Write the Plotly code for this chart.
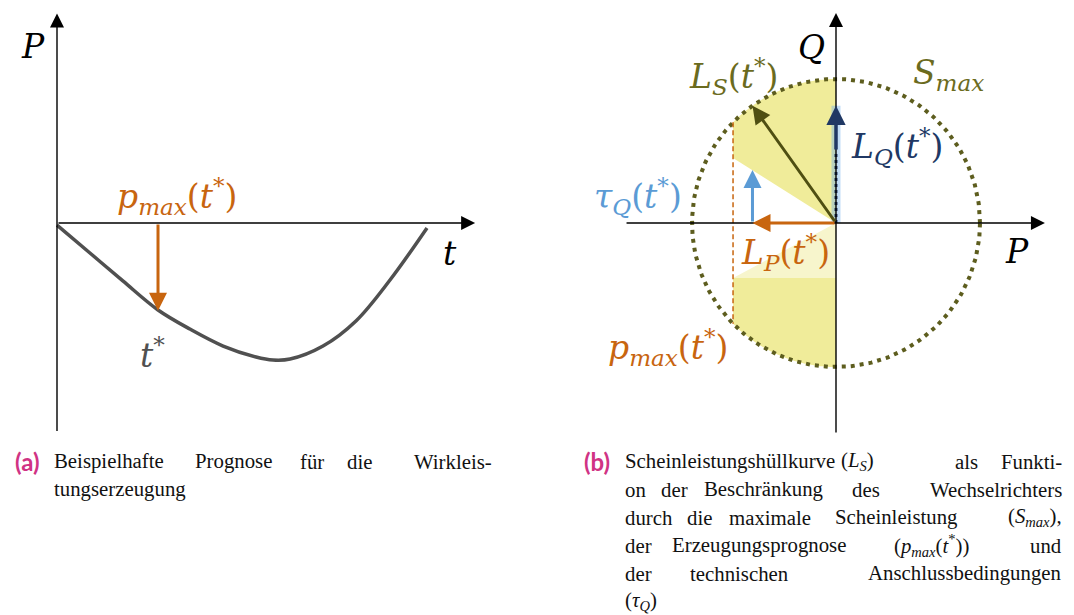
import numpy as np
import plotly.graph_objects as go

# ---------------- data: panel (a) ----------------
t_curve = [0.0, 0.089, 0.178, 0.273, 0.359, 0.449, 0.538, 0.584, 0.630, 0.719, 0.808, 0.900, 1.0]
p_curve = [-0.015, -0.219, -0.423, -0.635, -0.774, -0.898, -0.978, -1.0, -0.993, -0.898, -0.715, -0.416, -0.036]
t_star = 0.273
p_max_at_t_star = -0.64

# ---------------- data: panel (b) ----------------
S_max = 1.0
p_max_b = -0.715
L_P = -0.58
L_Q = 0.815
tau_Q_top = 0.368
tau_edge_up = 0.451
tau_edge_low = -0.382
L_Q_dotted_end = 0.5

W, H = 1074, 615
# pixel mapping (layout): panel a origin (57,223), 370 px/unit x, 137 px/unit y
ax_o, ay_o, a_sx, a_sy = 57, 223, 370.0, 137.0
# panel b origin (836,223), radius 144 px
bx_o, by_o, b_s = 836, 223, 144.0

def ppx(x):
    return x / W

def ppy(y):
    return 1 - y / H

fig = go.Figure()

OLIVE = "#6b6b1e"
OLIVE_DARK = "#4f4f12"
NAVY = "#203864"
LBLUE = "#5b9bd5"
ORANGE = "#c8650f"
GRAY = "#505050"
YEL = "#f0ec9a"
YEL_L = "#f7f5cc"

# ---- panel (a) curve
fig.add_trace(go.Scatter(x=t_curve, y=p_curve, mode="lines",
                         line=dict(color=GRAY, width=3.5, shape="spline", smoothing=1.0),
                         xaxis="x", yaxis="y", hoverinfo="skip"))

# ---- panel (b) regions
a1 = np.arccos(p_max_b / S_max)
edge = np.sqrt(S_max**2 - p_max_b**2)
arc_up = np.linspace(a1, np.pi / 2, 60)
xu = [0, p_max_b, p_max_b] + list(S_max * np.cos(arc_up)) + [0]
yu = [0, tau_edge_up, edge] + list(S_max * np.sin(arc_up)) + [0]
fig.add_trace(go.Scatter(x=xu, y=yu, fill="toself", fillcolor=YEL, mode="none",
                         xaxis="x2", yaxis="y2", hoverinfo="skip"))
arc_lo = np.linspace(-a1, -np.pi / 2, 60)
xl = [0, p_max_b, p_max_b] + list(S_max * np.cos(arc_lo)) + [0, 0]
yl = [tau_edge_low, tau_edge_low, -edge] + list(S_max * np.sin(arc_lo)) + [0, tau_edge_low]
fig.add_trace(go.Scatter(x=xl, y=yl, fill="toself", fillcolor=YEL, mode="none",
                         xaxis="x2", yaxis="y2", hoverinfo="skip"))
fig.add_trace(go.Scatter(x=[0, p_max_b, 0, 0], y=[0, tau_edge_low, tau_edge_low, 0],
                         fill="toself", fillcolor=YEL_L, mode="none",
                         xaxis="x2", yaxis="y2", hoverinfo="skip"))

# circle S_max
th = np.linspace(0, 2 * np.pi, 400)
fig.add_trace(go.Scatter(x=S_max * np.cos(th), y=S_max * np.sin(th), mode="lines",
                         line=dict(color="#5d5d1e", width=4, dash="4px,5px"),
                         xaxis="x2", yaxis="y2", hoverinfo="skip"))
# p_max dashed vertical
fig.add_trace(go.Scatter(x=[p_max_b, p_max_b], y=[edge, -edge], mode="lines",
                         line=dict(color=ORANGE, width=1.5, dash="5px,3px"),
                         xaxis="x2", yaxis="y2", hoverinfo="skip"))
# L_Q glow and dotted part
fig.add_trace(go.Scatter(x=[0, 0], y=[0, L_Q], mode="lines",
                         line=dict(color="rgba(120,180,235,0.45)", width=9),
                         xaxis="x2", yaxis="y2", hoverinfo="skip"))
fig.add_trace(go.Scatter(x=[0, 0], y=[0, L_Q_dotted_end], mode="lines",
                         line=dict(color=NAVY, width=3, dash="3px,3px"),
                         xaxis="x2", yaxis="y2", hoverinfo="skip"))

ann = []

def arrow(x0, y0, x1, y1, color, width, xr, yr, head=2, size=1.0):
    ann.append(dict(x=x1, y=y1, ax=x0, ay=y0, xref=xr, yref=yr, axref=xr, ayref=yr,
                    showarrow=True, arrowhead=head, arrowsize=size, arrowwidth=width,
                    arrowcolor=color, text=""))

# axes of panel (a)
arrow(0, -1.53, 0, 1.53, "black", 1.4, "x", "y", head=2, size=2.0)
arrow(0, 0, 1.13, 0, "black", 1.4, "x", "y", head=2, size=2.0)
# axes of panel (b)
arrow(0, -1.465, 0, 1.458, "black", 1.4, "x2", "y2", head=2, size=2.0)
arrow(-1.465, 0, 1.451, 0, "black", 1.4, "x2", "y2", head=2, size=2.0)

# panel (a) p_max arrow
arrow(t_star, 0, t_star, p_max_at_t_star, ORANGE, 3, "x", "y", head=2, size=1.2)
# panel (b) arrows
arrow(0, 0, L_P, L_Q, OLIVE_DARK, 3, "x2", "y2", head=2, size=1.2)
arrow(0, L_Q_dotted_end, 0, L_Q, NAVY, 3.5, "x2", "y2", head=2, size=1.1)
arrow(L_P, 0, L_P, tau_Q_top, LBLUE, 3, "x2", "y2", head=2, size=1.2)
arrow(0, 0, L_P, 0, ORANGE, 3, "x2", "y2", head=2, size=1.2)

MF = "DejaVu Serif"
LS = 33

def label(x, y, text, color, size, xr, yr):
    ann.append(dict(x=x, y=y, xref=xr, yref=yr, text=text, showarrow=False,
                    font=dict(family=MF, size=size, color=color),
                    xanchor="center", yanchor="middle"))

PM = "<i>p</i><sub><i>max</i></sub>(<i>t</i><sup>*</sup>)"
label(-0.065, 1.285, "<i>P</i>", "black", LS, "x", "y")
label(1.062, -0.219, "<i>t</i>", "black", LS, "x", "y")
label(0.324, 0.19, PM, ORANGE, LS, "x", "y")
label(0.259, -0.949, "<i>t</i><sup>*</sup>", GRAY, LS, "x", "y")

label(-0.167, 1.222, "<i>Q</i>", "black", LS, "x2", "y2")
label(-0.715, 1.014, "<i>L</i><sub><i>S</i></sub>(<i>t</i><sup>*</sup>)", OLIVE, LS, "x2", "y2")
label(0.778, 1.028, "<i>S</i><sub><i>max</i></sub>", OLIVE, LS, "x2", "y2")
label(0.424, 0.528, "<i>L</i><sub><i>Q</i></sub>(<i>t</i><sup>*</sup>)", NAVY, LS, "x2", "y2")
label(-1.375, 0.181, "<i>τ</i><sub><i>Q</i></sub>(<i>t</i><sup>*</sup>)", LBLUE, LS, "x2", "y2")
label(-0.354, -0.208, "<i>L</i><sub><i>P</i></sub>(<i>t</i><sup>*</sup>)", ORANGE, LS, "x2", "y2")
label(1.257, -0.201, "<i>P</i>", "black", LS, "x2", "y2")
label(-1.167, -0.868, PM, ORANGE, LS, "x2", "y2")

# ---------------- captions ----------------
CF = "Liberation Serif"
CS = 20.8
MAG = "#d03384"

def word(xp, yp, text, anchor="left", color="#111111", family=CF, size=CS, bold=False):
    t = f"<b>{text}</b>" if bold else text
    ann.append(dict(x=ppx(xp), y=ppy(yp), xref="paper", yref="paper", text=t,
                    showarrow=False, font=dict(family=family, size=size, color=color),
                    xanchor=anchor, yanchor="middle"))

word(13, 461, "(a)", color=MAG, family="Lato", size=24, bold=True)
for xp, w in [(52, "Beispielhafte"), (193, "Prognose"), (298, "für"), (345, "die")]:
    word(xp, 461, w)
word(494, 461, "Wirkleis-", anchor="right")
word(52, 489, "tungserzeugung")

word(582, 461, "(b)", color=MAG, family="Lato", size=24, bold=True)
lines_b = [
    (461, [(623, "Scheinleistungshüllkurve"), (839, "(<i>L</i><sub><i>S</i></sub>)"), (953, "als")], "Funkti-"),
    (489, [(623, "on"), (659, "der"), (702, "Beschränkung"), (850, "des")], "Wechselrichters"),
    (517, [(623, "durch"), (685, "die"), (727, "maximale"), (833, "Scheinleistung")],
     "(<i>S</i><sub><i>max</i></sub>),"),
    (545, [(623, "der"), (670, "Erzeugungsprognose"),
           (892, "(<i>p</i><sub><i>max</i></sub>(<i>t</i><sup>*</sup>))")], "und"),
    (573, [(623, "der"), (688, "technischen")], "Anschlussbedingungen"),
]
for yp, words, last in lines_b:
    for xp, w in words:
        word(xp, yp, w)
    word(1064, yp, last, anchor="right")
word(623, 601, "(<i>τ</i><sub><i>Q</i></sub>)")

ax_common = dict(visible=False, showgrid=False, zeroline=False, fixedrange=True)
fig.update_layout(
    width=W, height=H, margin=dict(l=0, r=0, t=0, b=0),
    paper_bgcolor="white", plot_bgcolor="white", showlegend=False,
    xaxis=dict(range=[-ax_o / a_sx, (W - ax_o) / a_sx], domain=[0, 1], **ax_common),
    yaxis=dict(range=[-(H - ay_o) / a_sy, ay_o / a_sy], domain=[0, 1], **ax_common),
    xaxis2=dict(range=[-bx_o / b_s, (W - bx_o) / b_s], domain=[0, 1], overlaying="x", **ax_common),
    yaxis2=dict(range=[-(H - by_o) / b_s, by_o / b_s], domain=[0, 1], overlaying="y", **ax_common),
    annotations=ann,
)
fig.write_html("out.html", config={"displayModeBar": False},
               post_script="document.body.style.margin='0';document.body.style.overflow='hidden';")
